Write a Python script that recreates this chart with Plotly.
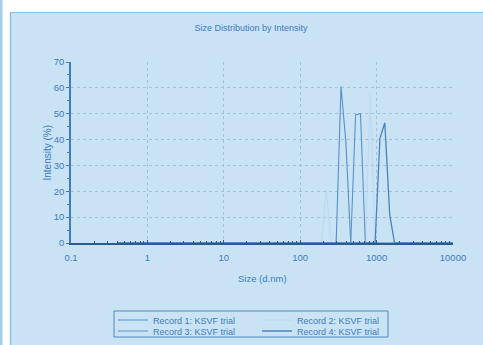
import plotly.graph_objects as go

# Malvern size bins (d.nm)
size_bins = [0.4, 0.4632, 0.5365, 0.6213, 0.7195, 0.8332, 0.9649, 1.117, 1.294, 1.499,
             1.736, 2.01, 2.328, 2.696, 3.122, 3.615, 4.187, 4.849, 5.615, 6.503,
             7.531, 8.721, 10.1, 11.7, 13.54, 15.69, 18.17, 21.04, 24.36, 28.21,
             32.67, 37.84, 43.82, 50.75, 58.77, 68.06, 78.82, 91.28, 105.7, 122.4,
             141.8, 164.2, 190.1, 220.2, 255.0, 295.3, 342.0, 396.1, 458.7, 531.2,
             615.1, 712.4, 825.0, 955.4, 1106, 1281, 1484, 1718, 1990, 2305,
             2669, 3091, 3580, 4145, 4801, 5560, 6439, 7456, 8635, 10000]

record1 = [0, 0, 0, 0, 0, 0, 0, 0, 0, 0,
           0, 0, 0, 0, 0, 0, 0, 0, 0, 0,
           0, 0, 0, 0, 0, 0, 0, 0, 0, 0,
           0, 0, 0, 0, 0, 0, 0, 0, 0, 0,
           0, 0, 0, 0, 0, 0, 60.5, 39.0, 0, 0,
           0, 0, 0, 0, 0, 0, 0, 0, 0, 0,
           0, 0, 0, 0, 0, 0, 0, 0, 0, 0]
record2 = [0, 0, 0, 0, 0, 0, 0, 0, 0, 0,
           0, 0, 0, 0, 0, 0, 0, 0, 0, 0,
           0, 0, 0, 0, 0, 0, 0, 0, 0, 0,
           0, 0, 0, 0, 0, 0, 0, 0, 0, 0,
           0, 0, 0, 20.5, 0, 0, 0, 0, 0, 0,
           0, 0, 57.5, 0, 0, 0, 0, 0, 0, 0,
           0, 0, 0, 0, 0, 0, 0, 0, 0, 0]
record3 = [0, 0, 0, 0, 0, 0, 0, 0, 0, 0,
           0, 0, 0, 0, 0, 0, 0, 0, 0, 0,
           0, 0, 0, 0, 0, 0, 0, 0, 0, 0,
           0, 0, 0, 0, 0, 0, 0, 0, 0, 0,
           0, 0, 0, 0, 0, 0, 0, 0, 0, 49.6,
           50.0, 0, 0, 0, 0, 0, 0, 0, 0, 0,
           0, 0, 0, 0, 0, 0, 0, 0, 0, 0]
record4 = [0, 0, 0, 0, 0, 0, 0, 0, 0, 0,
           0, 0, 0, 0, 0, 0, 0, 0, 0, 0,
           0, 0, 0, 0, 0, 0, 0, 0, 0, 0,
           0, 0, 0, 0, 0, 0, 0, 0, 0, 0,
           0, 0, 0, 0, 0, 0, 0, 0, 0, 0,
           0, 0, 0, 0, 40.5, 46.5, 11.0, 0, 0, 0,
           0, 0, 0, 0, 0, 0, 0, 0, 0, 0]

record_names = ["Record 1: KSVF trial", "Record 2: KSVF trial",
                "Record 3: KSVF trial", "Record 4: KSVF trial"]
record_values = [record1, record2, record3, record4]

x_tickvals = [0.1, 1, 10, 100, 1000, 10000]
x_ticktext = ["0.1", "1", "10", "100", "1000", "10000"]
y_tickvals = [0, 10, 20, 30, 40, 50, 60, 70]

colors = ["#5790c8", "#bcd8ef", "#5a93ca", "#4a82bb"]
widths = [1.1, 1.0, 1.1, 1.3]

BG = "#c9e3f4"
TXT = "#3e7bbd"
FONT = "Liberation Sans, Arial, sans-serif"

W, H = 483, 345
L, R, T, B = 71, 30, 62, 102
pw, ph = W - L - R, H - T - B


def px_x(p):
    return (p - L) / pw


def px_y(p):
    return (H - B - p) / ph


# legend placement (pixel coords of each entry: left x, row centre y)
legend_pos = [(113, 320), (257, 320), (113, 331), (257, 331)]
legend_ids = ["legend", "legend2", "legend3", "legend4"]

fig = go.Figure()
for name, vals, c, w, lid in zip(record_names, record_values, colors, widths, legend_ids):
    fig.add_trace(go.Scatter(x=size_bins, y=vals, mode="lines", name=name,
                             line=dict(color=c, width=w), legend=lid))

shapes = [
    # white top strip
    dict(type="rect", xref="paper", yref="paper", x0=px_x(-5), x1=px_x(W + 5),
         y0=px_y(12), y1=px_y(-5), fillcolor="white", line=dict(width=0), layer="below"),
    # white left strip
    dict(type="rect", xref="paper", yref="paper", x0=px_x(-5), x1=px_x(10),
         y0=px_y(H + 5), y1=px_y(-5), fillcolor="white", line=dict(width=0), layer="below"),
    # blue left edge
    dict(type="rect", xref="paper", yref="paper", x0=px_x(-5), x1=px_x(2.5),
         y0=px_y(H + 5), y1=px_y(-5), fillcolor="#a3cde8", line=dict(width=0), layer="below"),
    # panel border
    dict(type="line", xref="paper", yref="paper", x0=px_x(10.5), x1=px_x(W + 5),
         y0=px_y(12.5), y1=px_y(12.5), line=dict(color="#8fc0e1", width=1), layer="below"),
    dict(type="line", xref="paper", yref="paper", x0=px_x(10.5), x1=px_x(10.5),
         y0=px_y(12.5), y1=px_y(H + 5), line=dict(color="#8fc0e1", width=1.5), layer="below"),
    # legend box
    dict(type="rect", xref="paper", yref="paper", x0=px_x(114), x1=px_x(388),
         y0=px_y(337), y1=px_y(311), line=dict(color="#4f86c0", width=1),
         fillcolor="rgba(0,0,0,0)", layer="above"),
]

annotations = [
    dict(text="Size (d.nm)", xref="paper", yref="paper", x=0.5, y=px_y(278),
         showarrow=False, font=dict(size=9.5, color=TXT, family=FONT), yanchor="middle"),
    dict(text="Intensity (%)", xref="paper", yref="paper", x=px_x(47), y=0.5,
         showarrow=False, textangle=-90, font=dict(size=10, color=TXT, family=FONT),
         xanchor="center", yanchor="middle"),
]

legend_layout = {}
for lid, (lx, ly) in zip(legend_ids, legend_pos):
    legend_layout[lid] = dict(x=px_x(lx), y=px_y(ly), xanchor="left", yanchor="middle",
                              bgcolor="rgba(0,0,0,0)", borderwidth=0,
                              font=dict(size=9, color=TXT, family=FONT))

fig.update_layout(
    width=W, height=H,
    margin=dict(l=L, r=R, t=T, b=B, autoexpand=False),
    paper_bgcolor=BG, plot_bgcolor=BG,
    font=dict(family=FONT, size=9, color=TXT),
    title=dict(text="Size Distribution by Intensity", x=251 / W,
               xanchor="center", y=1 - 28 / H, yanchor="middle",
               font=dict(size=9, color=TXT, family=FONT)),
    shapes=shapes,
    annotations=annotations,
    showlegend=True,
    xaxis=dict(type="log", range=[-1, 4], tickvals=x_tickvals, ticktext=x_ticktext,
               showgrid=True, gridcolor="#a3c3dc", griddash="dot", gridwidth=1,
               showline=True, linecolor="#2a5b91", linewidth=2,
               ticks="inside", ticklen=3, tickcolor="#2a5b91",
               ticklabelstandoff=5, zeroline=False,
               minor=dict(ticks="inside", ticklen=2, tickcolor="#2a5b91",
                          dtick="D1", showgrid=False),
               tickfont=dict(size=9.5, color=TXT, family=FONT)),
    yaxis=dict(range=[0, 70], tickvals=y_tickvals,
               showgrid=True, gridcolor="#a3c3dc", griddash="dot", gridwidth=1,
               showline=True, linecolor="#3f7cbf", linewidth=1.5,
               ticks="outside", ticklen=3, tickcolor="#3f7cbf", zeroline=False,
               minor=dict(ticks="outside", ticklen=2, dtick=5, tickcolor="#3f7cbf",
                          showgrid=False),
               tickfont=dict(size=9.5, color=TXT, family=FONT)),
    **legend_layout,
)

fig.write_html("out.html", config={"displayModeBar": False},
               post_script="document.body.style.margin='0';")
